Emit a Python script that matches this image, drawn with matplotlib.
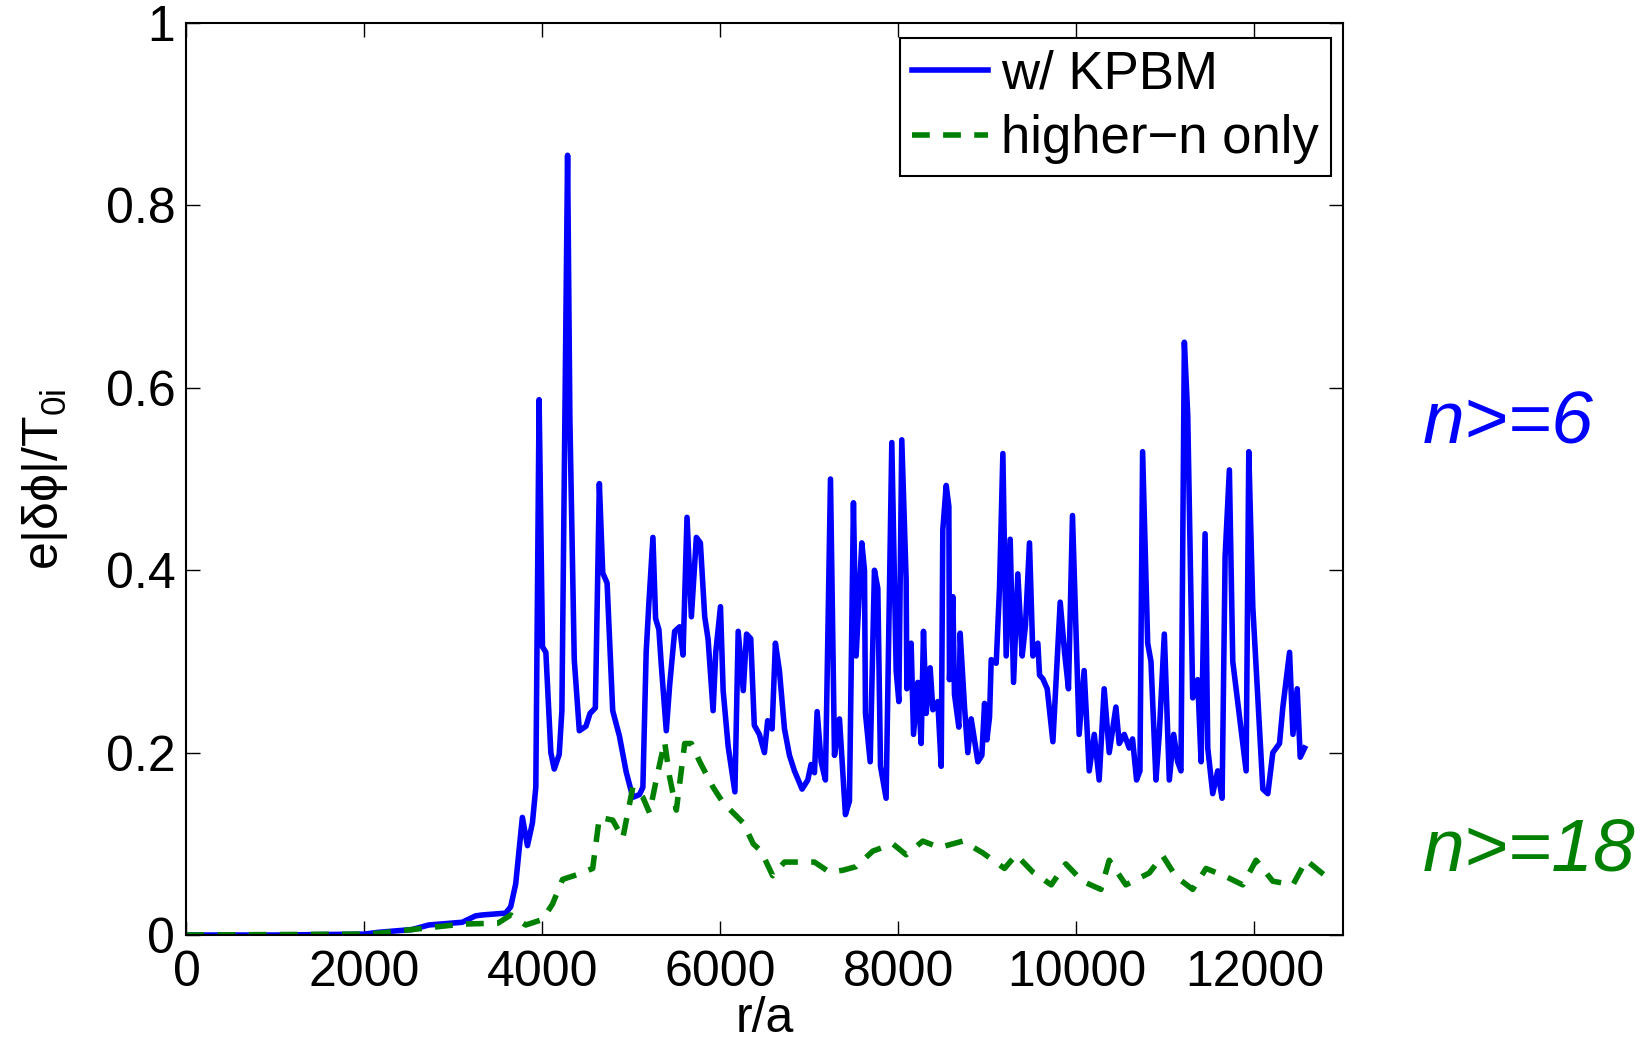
import matplotlib
matplotlib.use("Agg")
import matplotlib.pyplot as plt

plt.rcParams['font.family'] = ['Liberation Sans', 'DejaVu Sans']
plt.rcParams['mathtext.default'] = 'regular'

blue_r = [0, 1000, 2000, 2158, 2534, 2722, 3098, 3248, 3323, 3586, 3643, 3699, 3774, 3831, 3887, 3925,
          3962, 4000, 4038, 4094, 4132, 4188, 4218, 4282, 4308, 4357, 4414, 4489, 4534, 4594, 4639, 4677,
          4726, 4789, 4865, 4940, 5015, 5090, 5128, 5165, 5195, 5241, 5271, 5308, 5335, 5391, 5429, 5485,
          5541, 5579, 5624, 5673, 5729, 5774, 5823, 5861, 5917, 5947, 6000, 6030, 6086, 6162, 6199, 6256,
          6293, 6340, 6380, 6437, 6494, 6530, 6580, 6617, 6662, 6719, 6775, 6831, 6917, 6981, 7018, 7056,
          7086, 7131, 7179, 7236, 7281, 7337, 7404, 7449, 7494, 7524, 7588, 7618, 7629, 7682, 7730, 7768,
          7798, 7861, 7925, 7974, 8004, 8037, 8086, 8094, 8142, 8169, 8217, 8255, 8281, 8311, 8356, 8386,
          8442, 8480, 8498, 8536, 8566, 8573, 8611, 8629, 8678, 8693, 8742, 8779, 8817, 8892, 8937, 8967,
          8993, 9023, 9042, 9098, 9135, 9173, 9210, 9255, 9293, 9341, 9390, 9427, 9472, 9510, 9566, 9585,
          9622, 9671, 9735, 9817, 9866, 9910, 9955, 10030, 10086, 10143, 10200, 10255, 10311, 10368, 10443,
          10480, 10537, 10593, 10630, 10675, 10713, 10743, 10800, 10837, 10893, 10930, 10987, 11043, 11092,
          11137, 11174, 11212, 11250, 11306, 11362, 11400, 11445, 11475, 11531, 11587, 11636, 11670, 11718,
          11756, 11831, 11906, 11936, 11981, 12038, 12094, 12150, 12206, 12281, 12319, 12394, 12432, 12480,
          12514, 12563]
blue_v = [0.0, 0.0, 0.001, 0.003, 0.006, 0.011, 0.014, 0.021, 0.022, 0.024, 0.031, 0.056, 0.129, 0.098, 0.123, 0.162,
          0.587, 0.316, 0.31, 0.2, 0.182, 0.198, 0.246, 0.855, 0.565, 0.302, 0.224, 0.229, 0.243, 0.249, 0.495, 0.397,
          0.386, 0.246, 0.218, 0.179, 0.151, 0.154, 0.162, 0.31, 0.363, 0.436, 0.347, 0.335, 0.296, 0.224, 0.274, 0.333,
          0.338, 0.307, 0.458, 0.349, 0.436, 0.43, 0.349, 0.324, 0.246, 0.31, 0.36, 0.268, 0.207, 0.157, 0.333, 0.268,
          0.33, 0.325, 0.23, 0.22, 0.2, 0.235, 0.226, 0.32, 0.29, 0.226, 0.197, 0.18, 0.16, 0.17, 0.187, 0.178,
          0.245, 0.19, 0.17, 0.5, 0.197, 0.237, 0.132, 0.147, 0.474, 0.306, 0.43, 0.4, 0.243, 0.19, 0.4, 0.38,
          0.185, 0.15, 0.54, 0.29, 0.256, 0.543, 0.39, 0.27, 0.32, 0.22, 0.277, 0.21, 0.333, 0.243, 0.293, 0.247,
          0.256, 0.185, 0.444, 0.493, 0.47, 0.28, 0.371, 0.264, 0.228, 0.331, 0.25, 0.2, 0.237, 0.19, 0.197, 0.254,
          0.214, 0.239, 0.302, 0.298, 0.38, 0.528, 0.306, 0.434, 0.277, 0.396, 0.306, 0.34, 0.43, 0.306, 0.32, 0.285,
          0.281, 0.27, 0.212, 0.365, 0.31, 0.27, 0.46, 0.22, 0.29, 0.18, 0.22, 0.17, 0.27, 0.2, 0.25,
          0.21, 0.22, 0.205, 0.215, 0.17, 0.18, 0.53, 0.32, 0.30, 0.17, 0.22, 0.33, 0.17, 0.22,
          0.19, 0.18, 0.65, 0.57, 0.26, 0.28, 0.19, 0.44, 0.205, 0.155, 0.18, 0.15, 0.415, 0.51,
          0.30, 0.24, 0.18, 0.53, 0.36, 0.26, 0.16, 0.155, 0.2, 0.21, 0.25, 0.31, 0.22, 0.27,
          0.195, 0.205]

green_r = [0, 2000, 2158, 2722, 3098, 3500, 3643, 3812, 4000, 4113, 4226, 4414, 4564, 4639, 4789, 4902,
           4958, 5015, 5128, 5203, 5278, 5372, 5429, 5504, 5598, 5673, 5767, 5917, 6030, 6143, 6256, 6368,
           6456, 6587, 6719, 6887, 7056, 7224, 7374, 7524, 7711, 7936, 8086, 8273, 8461, 8723, 8948, 9191,
           9323, 9510, 9716, 9880, 10068, 10274, 10368, 10555, 10818, 10968, 11118, 11306, 11456, 11681,
           11868, 12018, 12206, 12432, 12582, 12807]
green_v = [0.0, 0.001, 0.002, 0.008, 0.012, 0.013, 0.022, 0.011, 0.017, 0.034, 0.061, 0.067, 0.073, 0.129, 0.126, 0.106,
           0.134, 0.162, 0.151, 0.134, 0.17, 0.212, 0.173, 0.137, 0.21, 0.21, 0.19, 0.162, 0.145, 0.134, 0.123, 0.1,
           0.092, 0.065, 0.08, 0.08, 0.08, 0.069, 0.071, 0.075, 0.092, 0.1, 0.088, 0.103, 0.096, 0.103, 0.09, 0.073,
           0.088, 0.069, 0.055, 0.078, 0.059, 0.05, 0.082, 0.055, 0.068, 0.087, 0.064, 0.05, 0.073, 0.064,
           0.055, 0.082, 0.059, 0.055, 0.082, 0.064]

x_ticks = [0, 2000, 4000, 6000, 8000, 10000, 12000]
y_ticks = [0, 0.2, 0.4, 0.6, 0.8, 1]
y_tick_labels = ["0", "0.2", "0.4", "0.6", "0.8", "1"]

FS = 36

fig = plt.figure(figsize=(16.43, 10.48), dpi=100)
ax = fig.add_axes([0.1135, 0.1078, 0.7042, 0.8702])

ax.plot(blue_r, blue_v, color=(0, 0, 1), lw=4, label="w/ KPBM", solid_joinstyle='round')
ax.plot(green_r, green_v, color=(0, 0.5, 0), lw=4, ls=(0, (3.2, 2.4)), label="higher\u2212n only")

ax.set_xlim(0, 13000)
ax.set_ylim(0, 1)
ax.set_xticks(x_ticks)
ax.set_xticklabels([str(t) for t in x_ticks])
ax.set_yticks(y_ticks)
ax.set_yticklabels(y_tick_labels)
ax.tick_params(axis='x', pad=11)
ax.tick_params(axis='y', pad=8)
ax.tick_params(direction='in', length=10, width=1, top=True, right=True, labelsize=FS)
for s in ax.spines.values():
    s.set_linewidth(1.5)

ax.set_xlabel("r/a", fontsize=FS, labelpad=0)
ax.set_ylabel("e|\u03b4\u03d5|/T$_{0i}$", fontsize=FS, labelpad=26)

leg = ax.legend(loc='upper right', bbox_to_anchor=(0.989, 0.984), fontsize=38, frameon=True,
                fancybox=False, edgecolor='black', framealpha=1, borderpad=0.22,
                handlelength=1.45, handletextpad=0.25, labelspacing=0.28, borderaxespad=0)
leg.get_frame().set_linewidth(1.5)

fig.text(0.866, 0.595, "n>=6", color=(0, 0, 1), fontsize=54, style='italic', va='center', ha='left')
fig.text(0.866, 0.188, "n>=18", color=(0, 0.5, 0), fontsize=54, style='italic', va='center', ha='left')

fig.savefig("out.png", dpi=100)
